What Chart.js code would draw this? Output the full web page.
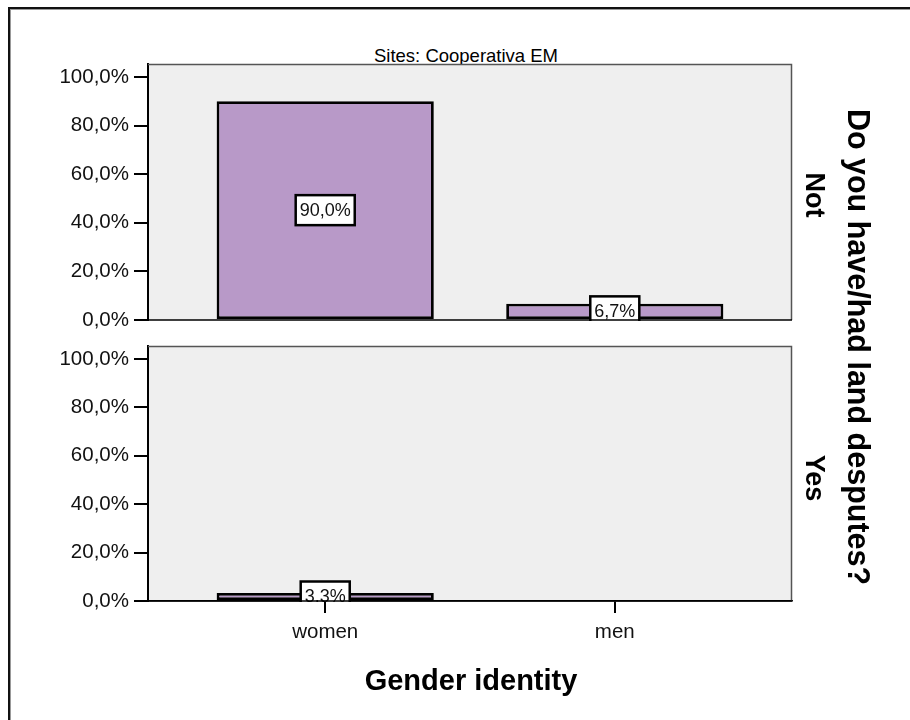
<!DOCTYPE html>
<html>
<head>
<meta charset="utf-8">
<script src="https://cdn.jsdelivr.net/npm/chart.js@4/dist/chart.umd.min.js"></script>
<style>
  html, body { margin:0; padding:0; background:#fff; overflow:hidden; }
  body { width:910px; height:720px; position:relative; font-family:"Liberation Sans", Arial, sans-serif; }
  .frame { position:absolute; left:8px; top:7px; width:1000px; height:800px;
           border-top:2px solid #111; border-left:2px solid #111; box-shadow: inset 1px 1px 0 #999; }
  .cv { position:absolute; left:0; }
  .txt { position:absolute; color:#000; white-space:nowrap; }
  .vert { writing-mode: vertical-rl; transform: translate(-50%, -50%); font-weight:bold; }
</style>
</head>
<body>
<div class="frame"></div>
<div class="txt" id="siteTitle" style="left:466px; top:56px; transform:translate(-50%,-50%); font-size:18.5px;">Sites: Cooperativa EM</div>
<div class="cv" style="top:0; width:910px; height:340px;"><canvas id="c1"></canvas></div>
<div class="cv" style="top:330px; width:910px; height:390px;"><canvas id="c2"></canvas></div>
<div class="txt" style="left:471px; top:680px; transform:translate(-50%,-50%); font-size:29px; font-weight:bold;">Gender identity</div>
<div class="txt vert" style="left:858px; top:347px; font-size:30.5px;">Do you have/had land desputes?</div>
<div class="txt vert" style="left:814px; top:195px; font-size:27px;">Not</div>
<div class="txt vert" style="left:814px; top:478px; font-size:27px;">Yes</div>
<script>
// ---- data ----
const categories = ["women", "men"];
const panelNames = ["Not", "Yes"];
const valuesNot = [90.0, 6.7];
const valuesYes = [3.3, 0];
const labelsNot = ["90,0%", "6,7%"];
const labelsYes = ["3.3%", ""];
const yTickValues = [0, 20, 40, 60, 80, 100];

const FONT = '"Liberation Sans", Arial, sans-serif';
const BAR_FILL = '#B899C8';

function toPoints(vals) { return vals.map((v, i) => ({ x: i, y: v })); }

const panelPlugin = {
  id: 'panelBg',
  beforeDraw(chart) {
    const a = chart.chartArea, ctx = chart.ctx;
    ctx.save();
    ctx.fillStyle = '#EFEFEF';
    ctx.fillRect(a.left, a.top, a.right - a.left, a.bottom - a.top);
    ctx.restore();
  },
  afterDraw(chart) {
    const a = chart.chartArea, ctx = chart.ctx;
    ctx.save();
    ctx.strokeStyle = '#555';
    ctx.lineWidth = 1.5;
    ctx.beginPath();
    ctx.moveTo(a.left, a.top + 0.5);
    ctx.lineTo(a.right - 0.5, a.top + 0.5);
    ctx.lineTo(a.right - 0.5, a.bottom);
    ctx.stroke();
    ctx.strokeStyle = '#000';
    ctx.beginPath();
    ctx.moveTo(a.left, a.bottom);
    ctx.lineTo(a.right, a.bottom);
    ctx.stroke();
    ctx.restore();
  }
};

const valueLabelPlugin = {
  id: 'valueLabels',
  afterDatasetsDraw(chart, args, opts) {
    const ctx = chart.ctx, a = chart.chartArea;
    const meta = chart.getDatasetMeta(0);
    const texts = opts.texts || [];
    ctx.save();
    ctx.beginPath();
    ctx.rect(a.left, a.top, a.right - a.left, a.bottom - a.top + 1);
    ctx.clip();
    ctx.font = '18px ' + FONT;
    meta.data.forEach((el, i) => {
      const t = texts[i];
      if (!t) return;
      const cx = el.x;
      const cy = (el.y + el.base) / 2;
      const w = ctx.measureText(t).width + 8;
      const h = 30;
      ctx.fillStyle = '#fff';
      ctx.fillRect(cx - w / 2, cy - h / 2, w, h);
      ctx.strokeStyle = '#000';
      ctx.lineWidth = 2.5;
      ctx.strokeRect(cx - w / 2, cy - h / 2, w, h);
      ctx.fillStyle = '#111';
      ctx.textAlign = 'center';
      ctx.textBaseline = 'middle';
      ctx.fillText(t, cx, cy + 1);
    });
    ctx.restore();
  }
};

function makeChart(id, values, texts, showX, padding) {
  return new Chart(document.getElementById(id), {
    type: 'bar',
    data: {
      datasets: [{
        label: 'Percent',
        data: toPoints(values),
        backgroundColor: BAR_FILL,
        borderColor: '#000',
        borderWidth: 2.8,
        borderSkipped: false,
        barPercentage: 0.75,
        categoryPercentage: 1.0
      }]
    },
    options: {
      responsive: true,
      maintainAspectRatio: false,
      animation: false,
      layout: { padding: padding },
      plugins: {
        legend: { display: false },
        tooltip: { enabled: false },
        title: { display: false },
        valueLabels: { texts: texts }
      },
      scales: {
        x: {
          type: 'linear',
          min: -0.612,
          max: 1.612,
          offset: false,
          display: showX,
          afterBuildTicks(scale) { scale.ticks = categories.map((c, i) => ({ value: i })); },
          afterFit(scale) { if (showX) scale.height = 119; scale.paddingLeft = 0; scale.paddingRight = 0; },
          ticks: {
            callback: (v) => categories[v] !== undefined ? categories[v] : '',
            font: { family: FONT, size: 20.5 },
            color: '#111',
            padding: 7,
            maxRotation: 0,
            autoSkip: false
          },
          grid: { display: true, offset: false, drawOnChartArea: false, drawTicks: true, tickLength: 12, color: '#000', lineWidth: 2 },
          border: { display: true, color: '#000', width: 1.5 }
        },
        y: {
          min: 0,
          max: 105.35,
          afterBuildTicks(scale) { scale.ticks = yTickValues.map(v => ({ value: v })); },
          afterFit(scale) { scale.width = 148; scale.paddingTop = 0; scale.paddingBottom = 0; },
          ticks: {
            callback: (v) => v.toFixed(1).replace('.', ',') + '%',
            font: { family: FONT, size: 20.5 },
            color: '#111',
            padding: 5
          },
          grid: { display: true, drawOnChartArea: false, drawTicks: true, tickLength: 14, color: '#000', lineWidth: 2 },
          border: { display: true, color: '#000', width: 2 }
        }
      }
    },
    plugins: [panelPlugin, valueLabelPlugin]
  });
}

makeChart('c1', valuesNot, labelsNot, false, { top: 64, right: 118, bottom: 20, left: 0 });
makeChart('c2', valuesYes, labelsYes, true, { top: 16, right: 118, bottom: 0, left: 0 });
</script>
</body>
</html>
